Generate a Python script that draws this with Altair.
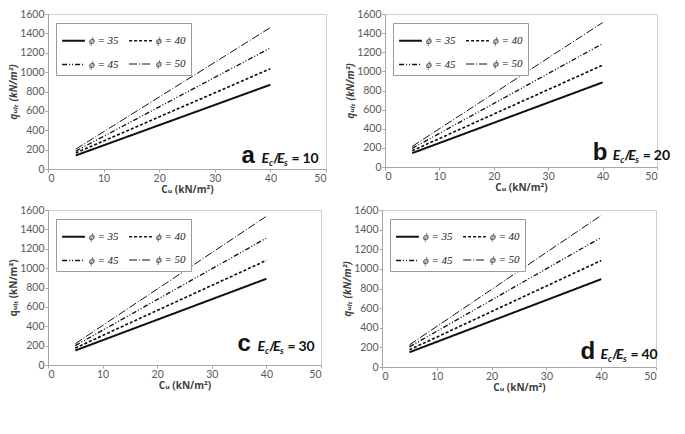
import altair as alt
import pandas as pd

# ---- data ----
panels = ["a", "b", "c", "d"]
ratios = ["10", "20", "30", "40"]
phis = ["35", "40", "45", "50"]
cu = [5, 40]

# values at Cu = 5 and Cu = 40 for phi = 35, 40, 45, 50
q_at_5 = {
    "a": [140, 165, 185, 205],
    "b": [145, 170, 195, 215],
    "c": [150, 175, 200, 220],
    "d": [150, 175, 205, 225],
}
q_at_40 = {
    "a": [870, 1035, 1250, 1460],
    "b": [885, 1065, 1290, 1510],
    "c": [890, 1080, 1310, 1535],
    "d": [895, 1085, 1320, 1545],
}
x_ticks = [0, 10, 20, 30, 40, 50]
y_ticks = [0, 200, 400, 600, 800, 1000, 1200, 1400, 1600]

# annotation anchors (data units: letter left edge, text baseline)
label_x = {"a": 34.8, "b": 38.2, "c": 34.7, "d": 36.2}
label_y = {"a": 65, "b": 74, "c": 148, "d": 80}

rows = []
for p in panels:
    for i, ph in enumerate(phis):
        rows.append({"panel": p, "phi": ph, "cu": cu[0], "q": q_at_5[p][i]})
        rows.append({"panel": p, "phi": ph, "cu": cu[1], "q": q_at_40[p][i]})
df = pd.DataFrame(rows)

dashes = [[1, 0], [3, 2], [5, 2, 1, 2, 1, 2], [8, 2, 1, 2]]
widths = [2, 1, 1, 1]

LABEL_FONT = "Lato"
TITLE_FONT = "Open Sans, DejaVu Sans"


def panel(p, ratio, w, h, y_title_italic=True):
    d = df[df.panel == p]
    xscale = alt.Scale(domain=[0, 50], nice=False)
    yscale = alt.Scale(domain=[0, 1600], nice=False)
    xaxis = alt.Axis(values=x_ticks, format="d", labelOverlap=False, title="Cᵤ (kN/m²)")
    yaxis = alt.Axis(
        values=y_ticks,
        format="d",
        labelOverlap=False,
        title="qᵤₗₜ (kN/m²)",
        titleFontStyle="italic" if y_title_italic else "normal",
    )
    legend = alt.Legend(
        title=None,
        orient="none",
        legendX=8,
        legendY=9,
        columns=2,
        direction="horizontal",
        symbolType="stroke",
        symbolSize=520,
        symbolStrokeColor="#111111",
        labelExpr="'ϕ = ' + datum.label",
        labelFont="Liberation Serif",
        labelFontStyle="italic",
        labelFontSize=11,
        labelColor="#222222",
        fillColor="white",
        strokeColor="#9a9a9a",
        padding=5,
        columnPadding=6,
        rowPadding=6,
        labelOffset=3,
    )
    lines = alt.Chart(d).mark_line(color="#111111").encode(
        x=alt.X("cu:Q", scale=xscale, axis=xaxis),
        y=alt.Y("q:Q", scale=yscale, axis=yaxis),
        strokeDash=alt.StrokeDash(
            "phi:N", scale=alt.Scale(domain=phis, range=dashes), legend=legend
        ),
        strokeWidth=alt.StrokeWidth(
            "phi:N", scale=alt.Scale(domain=phis, range=widths), legend=legend
        ),
    )
    x0 = label_x[p]
    y0 = label_y[p]

    def txt(s, dx, size, dy=0, italic=False, font="Liberation Sans"):
        return alt.Chart().mark_text(
            text=s,
            align="left",
            baseline="alphabetic",
            dx=dx,
            dy=dy,
            fontSize=size,
            fontWeight="bold",
            fontStyle="italic" if italic else "normal",
            font=font,
            color="#111111",
        ).encode(
            x=alt.XDatum(x0, scale=xscale, axis=xaxis),
            y=alt.YDatum(y0, scale=yscale, axis=yaxis),
        )

    ann = [
        txt(p, 0, 24),
        txt("E", 20, 14, italic=True, font=LABEL_FONT),
        txt("c", 27.5, 9, dy=3, italic=True, font=LABEL_FONT),
        txt("/", 31.5, 14, font=LABEL_FONT),
        txt("E", 35.5, 14, italic=True, font=LABEL_FONT),
        txt("s", 42.5, 9, dy=3, italic=True, font=LABEL_FONT),
        txt("=", 50, 14, font=LABEL_FONT),
        txt(ratio, 61, 14, font=LABEL_FONT),
    ]
    return alt.layer(lines, *ann).properties(width=w, height=h)


top = alt.hconcat(
    panel("a", ratios[0], 278, 155),
    panel("b", ratios[1], 272, 153),
    spacing=18,
).resolve_scale(strokeDash="independent", strokeWidth="independent")
bottom = alt.hconcat(
    panel("c", ratios[2], 273, 155, y_title_italic=False),
    panel("d", ratios[3], 274, 157),
    spacing=20,
).resolve_scale(strokeDash="independent", strokeWidth="independent")

chart = (
    alt.vconcat(top, bottom, spacing=9)
    .resolve_scale(strokeDash="independent", strokeWidth="independent")
    .properties(padding={"left": 0, "top": 0, "right": 0, "bottom": 0}, background="white")
    .configure_view(stroke="#d0d0d0", strokeWidth=1)
    .configure_axis(
        grid=False,
        domainColor="#a6a6a6",
        tickColor="#a6a6a6",
        tickSize=3,
        labelFont=LABEL_FONT,
        labelFontSize=10.5,
        labelColor="#595959",
        labelPadding=1,
        titleFont=TITLE_FONT,
        titleFontSize=10,
        titleFontWeight="bold",
        titleColor="#404040",
        titlePadding=1,
    )
    .configure_axisY(titlePadding=1)
)

chart.save("out.html", embed_options={"renderer": "svg", "actions": False})
